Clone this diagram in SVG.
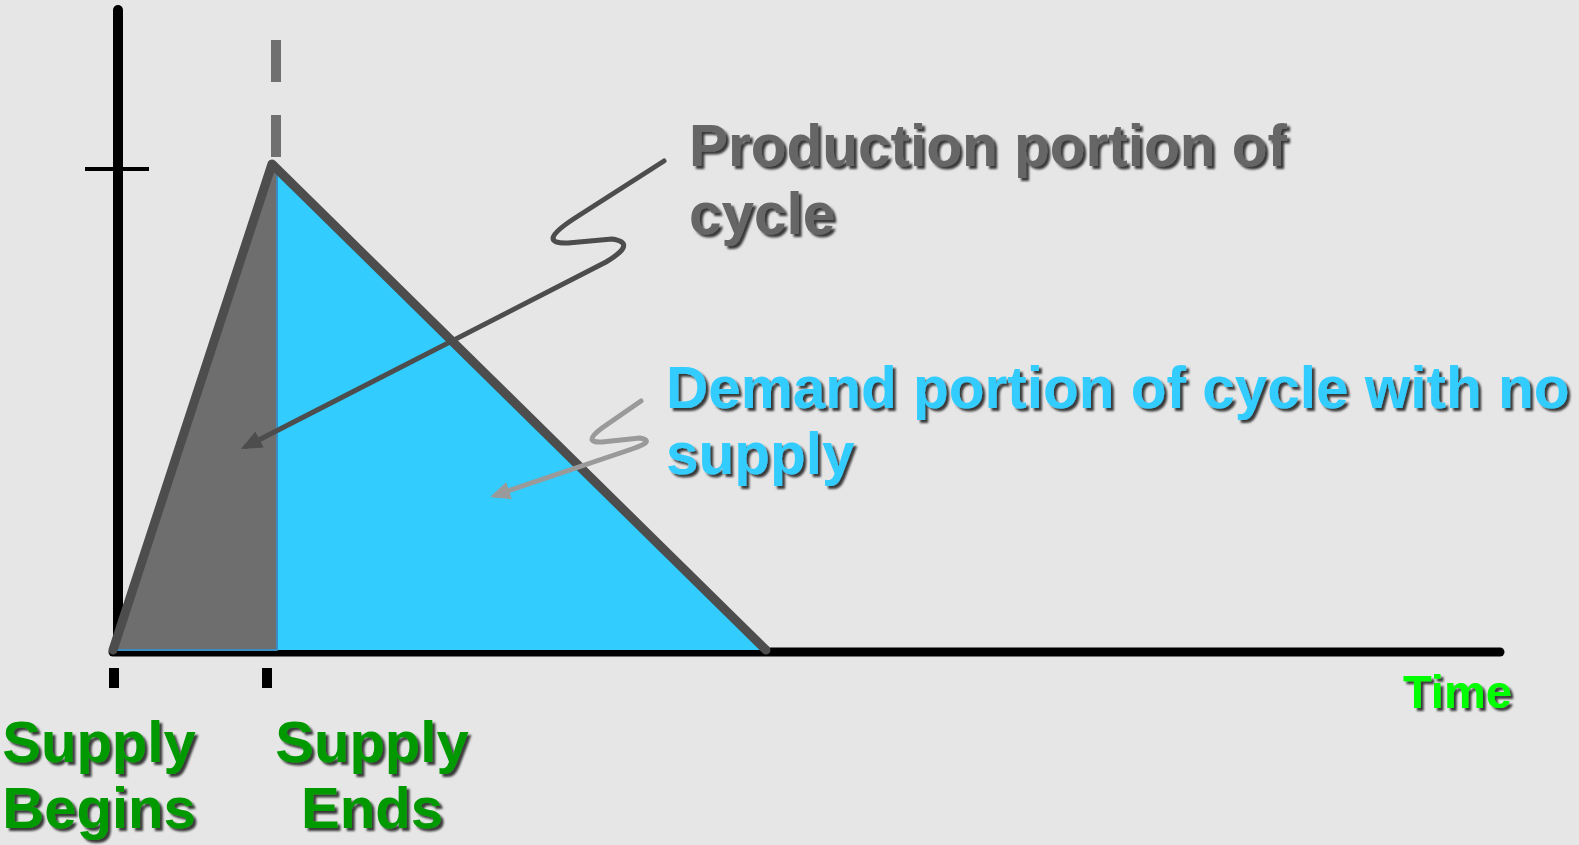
<svg xmlns="http://www.w3.org/2000/svg" width="1579" height="845" viewBox="0 0 1579 845">
  <defs>
    <filter id="shadow" x="-5%" y="-20%" width="110%" height="140%">
      <feGaussianBlur in="SourceAlpha" stdDeviation="1.2"/>
      <feOffset dx="3" dy="3" result="off"/>
      <feFlood flood-color="#000" flood-opacity="0.75"/>
      <feComposite in2="off" operator="in"/>
      <feMerge><feMergeNode/><feMergeNode in="SourceGraphic"/></feMerge>
    </filter>
    <marker id="headDark" viewBox="0 0 10 10" refX="7.1" refY="5" markerWidth="4.2" markerHeight="3.6" orient="auto" markerUnits="strokeWidth" preserveAspectRatio="none">
      <path d="M0,0 L10,5 L0,10 z" fill="#4d4d4d"/>
    </marker>
    <marker id="headLight" viewBox="0 0 10 10" refX="7.1" refY="5" markerWidth="4.0" markerHeight="3.6" orient="auto" markerUnits="strokeWidth" preserveAspectRatio="none">
      <path d="M0,0 L10,5 L0,10 z" fill="#9a9a9a"/>
    </marker>
  </defs>
  <style>
    .lbl { font-family: "Liberation Sans", Arial, sans-serif; font-weight: bold; filter: url(#shadow); }
    .axis { stroke: #000; fill: none; stroke-linecap: round; }
    .green { fill: #009900; font-size: 58px; text-anchor: middle; }
  </style>

  <rect width="1579" height="845" fill="#e6e6e6"/>

  <!-- axes and ticks -->
  <g id="axes">
    <line class="axis" x1="118" y1="10" x2="118" y2="651" stroke-width="10"/>
    <line x1="85" y1="169" x2="149" y2="169" stroke="#000" stroke-width="4"/>
    <line class="axis" x1="113" y1="652" x2="1500" y2="652" stroke-width="9"/>
    <rect x="109" y="668" width="10" height="20" fill="#000"/>
    <rect x="262" y="668" width="10" height="20" fill="#000"/>
    <line x1="276" y1="40" x2="276" y2="82" stroke="#707070" stroke-width="10"/>
    <line x1="276" y1="115" x2="276" y2="157" stroke="#707070" stroke-width="10"/>
  </g>

  <!-- inventory cycle triangle -->
  <g id="cycle">
    <polygon points="276,168 762,650 276,650" fill="#33ccff"/>
    <polygon points="113,650 272,166 277,166 277,650" fill="#6e6e6e" stroke="#3b8dbf" stroke-width="2" stroke-linejoin="round"/>
    <polyline points="113,650 272,164 766,650" fill="none" stroke="#4d4d4d" stroke-width="9" stroke-linecap="round" stroke-linejoin="round"/>
  </g>

  <!-- callout connectors -->
  <g id="connectors" fill="none" stroke-linecap="round" stroke-linejoin="round">
    <path d="M664,161 L575,218 Q535,244 568,243 L612,239 Q638,243 606,262 L246.3,446.3" stroke="#4d4d4d" stroke-width="5" marker-end="url(#headDark)"/>
    <path d="M641,401 L602,428 Q582,443 602,442 L640,438 Q656,441 632,449 L495.7,495.1" stroke="#9a9a9a" stroke-width="5" marker-end="url(#headLight)"/>
  </g>

  <!-- labels -->
  <g id="label-production">
    <text class="lbl" x="689" y="166" font-size="58.5" fill="#666666">Production portion of</text>
    <text class="lbl" x="689" y="234" font-size="58.5" fill="#666666">cycle</text>
  </g>
  <g id="label-demand">
    <text class="lbl" x="666" y="408" font-size="58.5" fill="#33ccff">Demand portion of cycle with no</text>
    <text class="lbl" x="666" y="474" font-size="58.5" fill="#33ccff">supply</text>
  </g>
  <g id="label-begins">
    <text class="lbl green" x="99" y="762">Supply</text>
    <text class="lbl green" x="99" y="828">Begins</text>
  </g>
  <g id="label-ends">
    <text class="lbl green" x="372" y="762">Supply</text>
    <text class="lbl green" x="372" y="828">Ends</text>
  </g>
  <g id="label-time">
    <text class="lbl" x="1403" y="708" font-size="47" fill="#00ff00">Time</text>
  </g>
</svg>
